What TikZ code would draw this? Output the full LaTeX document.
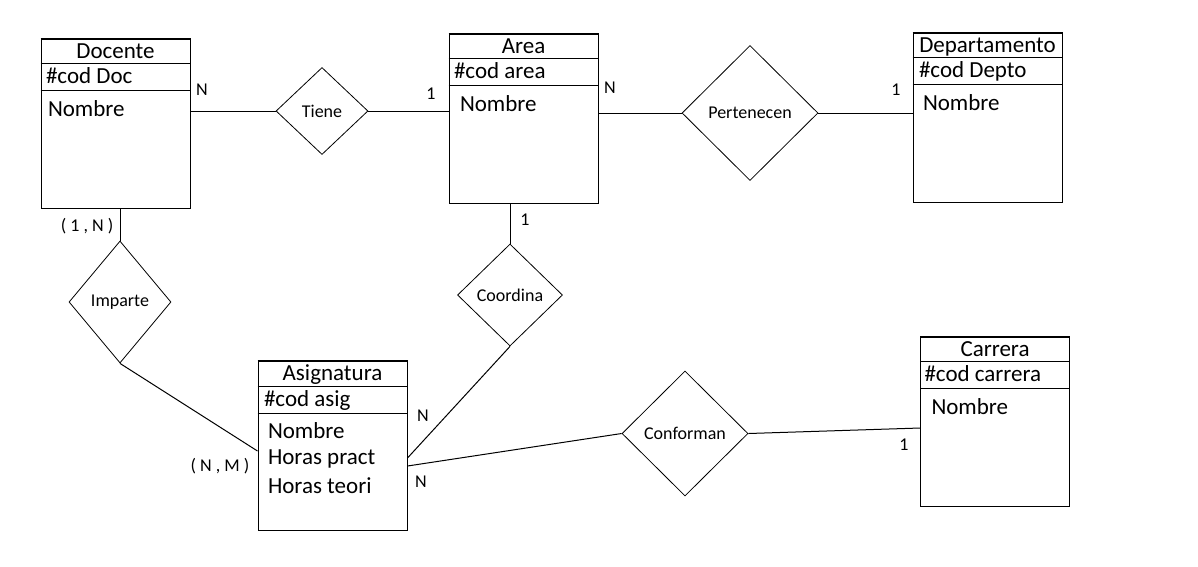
\documentclass[tikz,border=0pt]{standalone}
\usepackage{fontspec}
\setmainfont{Carlito}
\usetikzlibrary{shapes.geometric}

\tikzset{
  entity/.style={draw, line width=1pt, minimum width=149pt, minimum height=169pt, inner sep=0pt},
  rel/.style={draw, diamond, line width=0.8pt, inner sep=0pt, font=\fontsize{18}{21}\selectfont},
  etitle/.style={anchor=base, inner sep=0pt, font=\fontsize{23}{27}\selectfont},
  eattr/.style={anchor=base west, inner sep=0pt, font=\fontsize{23}{27}\selectfont},
  card/.style={inner sep=0pt, font=\fontsize{18}{21}\selectfont},
}

\begin{document}
\begin{tikzpicture}[x=1pt, y=-1pt, every path/.style={line width=1pt}]

  \useasboundingbox (0,0) rectangle (1198,566);

  % entities
  \node[entity] (doc) at (115.5,123.5) {};
  \node[entity] (area) at (523.5,118.5) {};
  \node[entity] (dep) at (987.5,117.5) {};
  \node[entity] (asig) at (332.5,446) {};
  \node[entity] (car) at (995,421.5) {};

  \foreach \e in {doc,area,dep,asig,car}{
    \draw ([yshift=-25pt]\e.north west) -- ([yshift=-25pt]\e.north east)
          ([yshift=-52pt]\e.north west) -- ([yshift=-52pt]\e.north east);
    \draw[line width=1.8pt] (\e.north west) -- (\e.north east);
  }

  \node[etitle] (docT) at ([yshift=-19.5pt]doc.north) {Docente};
  \node[eattr] (docK) at ([xshift=5pt,yshift=-45pt]doc.north west) {\#cod Doc};
  \node[eattr] (docN) at ([xshift=7pt,yshift=-78pt]doc.north west) {Nombre};

  \node[etitle] (areaT) at ([yshift=-19.5pt]area.north) {Area};
  \node[eattr] (areaK) at ([xshift=5pt,yshift=-45pt]area.north west) {\#cod area};
  \node[eattr] (areaN) at ([xshift=11pt,yshift=-78pt]area.north west) {Nombre};

  \node[etitle] (depT) at ([yshift=-19.5pt]dep.north) {Departamento};
  \node[eattr] (depK) at ([xshift=6pt,yshift=-45pt]dep.north west) {\#cod Depto};
  \node[eattr] (depN) at ([xshift=10pt,yshift=-78pt]dep.north west) {Nombre};

  \node[etitle] (asigT) at ([yshift=-19.5pt]asig.north) {Asignatura};
  \node[eattr] (asigK) at ([xshift=6pt,yshift=-45pt]asig.north west) {\#cod asig};
  \node[eattr] (asigN) at ([xshift=10pt,yshift=-77.5pt]asig.north west) {Nombre};
  \node[eattr] (asigP) at ([xshift=10pt,yshift=-103.5pt]asig.north west) {Horas pract};
  \node[eattr] (asigH) at ([xshift=10pt,yshift=-132pt]asig.north west) {Horas teori};

  \node[etitle] (carT) at ([yshift=-19.5pt]car.north) {Carrera};
  \node[eattr] (carK) at ([xshift=4pt,yshift=-45pt]car.north west) {\#cod carrera};
  \node[eattr] (carN) at ([xshift=11pt,yshift=-78pt]car.north west) {Nombre};

  % relationships
  \node[rel, minimum width=92pt, minimum height=87pt] (tiene) at (322,111) {Tiene};
  \node[rel, minimum width=136pt, minimum height=135pt] (pert) at (750,113) {Pertenecen};
  \node[rel, minimum width=102pt, minimum height=122pt] (imp) at (120,302) {Imparte};
  \node[rel, minimum width=105pt, minimum height=102pt] (coo) at (510,295) {Coordina};
  \node[rel, minimum width=126pt, minimum height=125pt] (conf) at (685,433.5) {Conforman};

  \draw (doc.east |- tiene) -- (tiene.west) (tiene.east) -- (area.west |- tiene);
  \draw (area.east |- pert) -- (pert.west) (pert.east) -- (dep.west |- pert);
  \draw (imp.north |- doc.south) -- (imp.north);
  \draw (coo.north |- area.south) -- (coo.north);
  \draw (imp.south) -- ([yshift=-5pt]asig.west);
  \draw (coo.south) -- ([yshift=-12pt]asig.east);
  \draw ([yshift=-20pt]asig.east) -- (conf.west);
  \draw (conf.east) -- ([yshift=-6.5pt]car.west);

  % cardinalities
  \node[card] (nTd) at (202,90) {N};
  \node[card] (nTa) at (431,94) {1};
  \node[card] (nPa) at (610,88) {N};
  \node[card] (nPd) at (896,90) {1};
  \node[card] (nCa) at (525,220) {1};
  \node[card] (nId) at (87,226) {( 1 , N )};
  \node[card] (nIa) at (220,466) {( N , M )};
  \node[card] (nCs) at (423,416) {N};
  \node[card] (nFs) at (421,482) {N};
  \node[card] (nFc) at (904,445) {1};

\end{tikzpicture}
\end{document}
